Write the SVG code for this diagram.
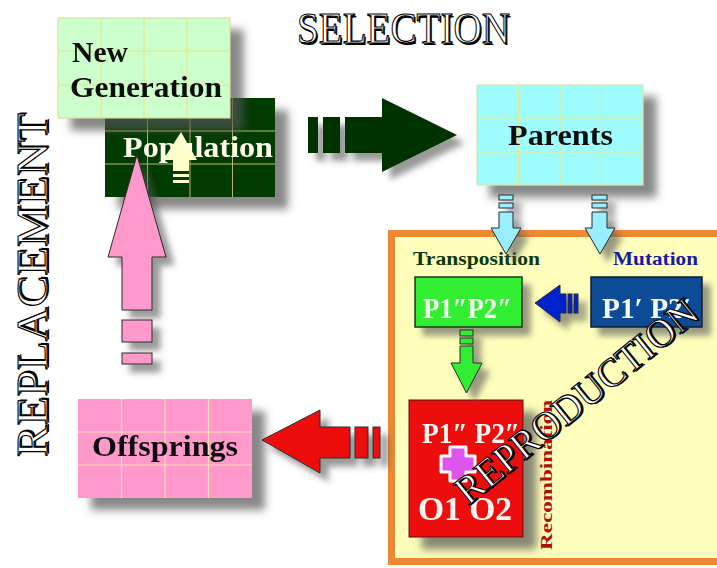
<svg xmlns="http://www.w3.org/2000/svg" width="717" height="568" viewBox="0 0 717 568">
  <defs>
    <filter id="shadow" x="-20%" y="-20%" width="160%" height="160%">
      <feDropShadow dx="13" dy="12" stdDeviation="4" flood-color="#555555" flood-opacity="0.7"/>
    </filter>
    <filter id="shadowSmall" x="-30%" y="-30%" width="180%" height="180%">
      <feDropShadow dx="8" dy="8" stdDeviation="3" flood-color="#555555" flood-opacity="0.6"/>
    </filter>
    <style>
      .serif { font-family: "Liberation Serif", "Times New Roman", serif; font-weight: bold; }
      .title { font-family: "Liberation Serif", "Times New Roman", serif; font-weight: normal; }
      .engraved { fill: #ffffff; stroke: #000000; stroke-width: 1.1; }
      .engraved-back { fill: #000000; }
      .grid-light { stroke: #e6e68a; stroke-width: 1.2; fill: none; }
      .grid-dark { stroke: #b8b860; stroke-width: 1; fill: none; }
      .grid-pink { stroke: #ffe0b0; stroke-width: 1.2; fill: none; }
      .arrow-edge { stroke: #2a2a2a; stroke-width: 1; }
    </style>
  </defs>

  <rect x="0" y="0" width="717" height="568" fill="#ffffff"/>

  <!-- stage titles -->
  <g id="title-selection">
    <text class="title engraved-back" x="298.5" y="44.5" font-size="44" textLength="213" lengthAdjust="spacingAndGlyphs">SELECTION</text>
    <text class="title engraved" x="297" y="43" font-size="44" textLength="213" lengthAdjust="spacingAndGlyphs">SELECTION</text>
  </g>
  <g id="title-replacement" transform="translate(47,457) rotate(-90)">
    <text class="title engraved-back" x="1.5" y="1.5" font-size="44" textLength="344" lengthAdjust="spacingAndGlyphs">REPLACEMENT</text>
    <text class="title engraved" x="0" y="0" font-size="44" textLength="344" lengthAdjust="spacingAndGlyphs">REPLACEMENT</text>
  </g>

  <!-- reproduction area -->
  <g id="reproduction">
    <rect x="391.5" y="233.5" width="400" height="328" fill="#ffffbb" stroke="#ee8833" stroke-width="7"/>
    <text class="serif" x="413" y="265" font-size="18" fill="#0c3a0c" textLength="127" lengthAdjust="spacingAndGlyphs">Transposition</text>
    <text class="serif" x="613" y="265" font-size="18" fill="#1a1aa0" textLength="85" lengthAdjust="spacingAndGlyphs">Mutation</text>
    <text class="serif" transform="translate(552,550) rotate(-90)" font-size="17" fill="#b01010" textLength="150" lengthAdjust="spacingAndGlyphs">Recombination</text>
  </g>

  <!-- population pool -->
  <g id="population" filter="url(#shadow)">
    <rect x="105" y="98" width="170" height="99" fill="#033a06"/>
    <path class="grid-dark" d="M147.5 98V197M190 98V197M232.5 98V197M105 131H275M105 164H275"/>
    <text class="serif" x="123" y="157" font-size="29" fill="#fffff0" textLength="150" lengthAdjust="spacingAndGlyphs">Population</text>
  </g>

  <g id="new-generation" filter="url(#shadow)">
    <rect x="58" y="18" width="172" height="100" fill="#ccffcc" stroke="#d8d890" stroke-width="1"/>
    <path class="grid-light" d="M101 18V118M144 18V118M187 18V118M58 51H230M58 85H230"/>
    <text class="serif" x="72" y="62" font-size="29" fill="#111111" textLength="56" lengthAdjust="spacingAndGlyphs">New</text>
    <text class="serif" x="70" y="97" font-size="29" fill="#111111" textLength="152" lengthAdjust="spacingAndGlyphs">Generation</text>
  </g>

  <g id="parents" filter="url(#shadow)">
    <rect x="477" y="85" width="166" height="100" fill="#9ffcfc" stroke="#e0e090" stroke-width="1"/>
    <path class="grid-light" d="M518.5 85V185M560 85V185M601.5 85V185M477 118H643M477 152H643"/>
    <text class="serif" x="508" y="145" font-size="29" fill="#111111" textLength="105" lengthAdjust="spacingAndGlyphs">Parents</text>
  </g>

  <g id="offsprings" filter="url(#shadow)">
    <rect x="78" y="399" width="174" height="99" fill="#ff99cc"/>
    <path class="grid-pink" d="M121.5 399V498M165 399V498M208.5 399V498M78 432H252M78 465H252"/>
    <text class="serif" x="92" y="456" font-size="30" fill="#111111" textLength="146" lengthAdjust="spacingAndGlyphs">Offsprings</text>
  </g>

  <g id="transposition-box" filter="url(#shadowSmall)">
    <rect x="415" y="277" width="107" height="50" fill="#33ee33" stroke="#1a3a1a" stroke-width="1.5"/>
    <text class="serif" x="423" y="318" font-size="29" fill="#f4fff0" textLength="89" lengthAdjust="spacingAndGlyphs">P1″P2″</text>
  </g>

  <g id="mutation-box" filter="url(#shadowSmall)">
    <rect x="591" y="277" width="111" height="50" fill="#0d4b94" stroke="#0a1a33" stroke-width="1.5"/>
    <text class="serif" x="602" y="318" font-size="29" fill="#f4f8ff" textLength="89" lengthAdjust="spacingAndGlyphs">P1′ P2′</text>
  </g>

  <g id="recombination-box" filter="url(#shadow)">
    <rect x="409" y="400" width="114" height="137" fill="#ee1111" stroke="#551111" stroke-width="1"/>
    <text class="serif" x="422" y="443" font-size="29" fill="#fff4f0" textLength="98" lengthAdjust="spacingAndGlyphs">P1″ P2″</text>
    <path d="M450 447h16v9h9v16h-9v9h-16v-9h-9v-16h9z" fill="#dd55ee" stroke="#ffffff" stroke-width="3" stroke-linejoin="round"/>
    <text class="serif" x="418" y="520" font-size="33" fill="#fff4f0" textLength="94" lengthAdjust="spacingAndGlyphs">O1 O2</text>
  </g>

  <!-- flow arrows -->
  <g id="connectors">
    <!-- population to parents -->
    <g filter="url(#shadowSmall)" fill="#003300">
      <rect x="308" y="117" width="10" height="36"/>
      <rect x="323" y="117" width="17" height="36"/>
      <path d="M345 117H382V98L457 135L382 172V153H345Z"/>
    </g>
    <!-- parents down to transposition and mutation -->
    <g filter="url(#shadowSmall)" fill="#99eeff" class="arrow-edge">
      <rect x="499" y="195" width="14" height="5"/>
      <rect x="499" y="203" width="14" height="5"/>
      <path d="M499 212H513V228H521L506 254L491 228H499Z"/>
      <rect x="592" y="195" width="15" height="5"/>
      <rect x="592" y="203" width="15" height="5"/>
      <path d="M592 212H607V228H615L600 254L585 228H592Z"/>
    </g>
    <!-- mutation to transposition -->
    <g filter="url(#shadowSmall)" fill="#0022cc" class="arrow-edge">
      <rect x="568" y="294" width="4" height="19"/>
      <rect x="574" y="294" width="4" height="19"/>
      <path d="M566 294V313H560V322L535 303L560 285V294Z"/>
    </g>
    <!-- transposition down to recombination -->
    <g filter="url(#shadowSmall)" fill="#33ee33" class="arrow-edge">
      <rect x="460" y="330" width="13" height="6"/>
      <rect x="460" y="338" width="13" height="6"/>
      <path d="M460 346H473V363H482L466.5 393L451 363H460Z"/>
    </g>
    <!-- recombination to offsprings -->
    <g filter="url(#shadowSmall)" fill="#ee1111" class="arrow-edge">
      <rect x="373" y="427" width="7" height="31"/>
      <rect x="355" y="427" width="13" height="31"/>
      <path d="M350 427V458H320V473L262 440L320 410V427Z"/>
    </g>
    <!-- offsprings up to population -->
    <g filter="url(#shadowSmall)" fill="#ff99cc" class="arrow-edge">
      <rect x="122" y="353" width="30" height="11"/>
      <rect x="122" y="320" width="30" height="22"/>
      <path d="M122 310V257H108L137 155L166 257H152V310Z"/>
    </g>
    <!-- new generation into population -->
    <g fill="#ffffcc">
      <rect x="173" y="180" width="16" height="3"/>
      <rect x="173" y="174" width="16" height="3"/>
      <path d="M173 171V160H163L181 132L197 160H189V171Z"/>
    </g>
  </g>

  <!-- diagonal stage title over the reproduction area -->
  <g id="title-reproduction" transform="translate(468,506) rotate(-39)">
    <text class="title engraved-back" x="1.5" y="1.5" font-size="40" textLength="300" lengthAdjust="spacingAndGlyphs">REPRODUCTION</text>
    <text class="title engraved" x="0" y="0" font-size="40" textLength="300" lengthAdjust="spacingAndGlyphs">REPRODUCTION</text>
  </g>
</svg>
